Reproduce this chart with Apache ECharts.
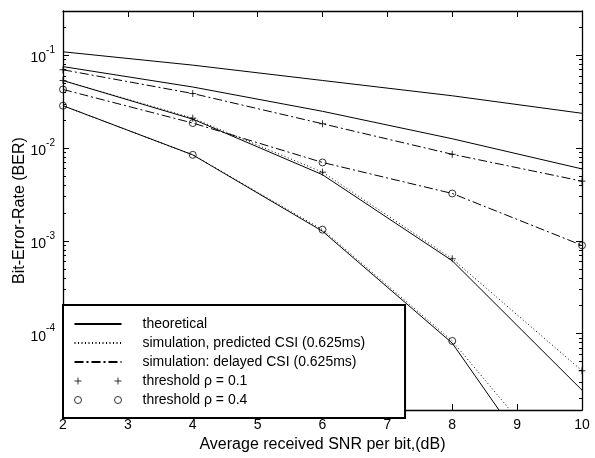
<!DOCTYPE html>
<html>
<head>
<meta charset="utf-8">
<script src="https://cdn.jsdelivr.net/npm/echarts@6/dist/echarts.min.js"></script>
<style>
  html, body { margin: 0; padding: 0; background: #fff; }
  #chart { width: 595px; height: 458px; }
</style>
</head>
<body>
<div id="chart"></div>
<script>
// SNR per bit (dB)
const snr = [2, 4, 6, 8, 10];

// theoretical curves (solid)
const theory1 = [0.109, 0.0783, 0.0535, 0.0366, 0.0237];
const theory2 = [0.0755, 0.0455, 0.0249, 0.0126, 0.00596];
const theory3 = [0.0534, 0.0205, 0.00516, 6.1e-4, 2.46e-5];
const theory4 = [0.0286, 0.00845, 0.00127, 7.9e-5, 7.9e-7];

// simulation, predicted CSI (dotted)
const predicted01 = [0.0534, 0.021, 0.0055, 6.41e-4, 3.98e-5];
const predicted04 = [0.0286, 0.00845, 0.00132, 8.34e-5, 1.78e-6];

// simulation, delayed CSI (dash-dot)
const delayed01 = [0.0698, 0.0387, 0.01828, 0.00857, 0.0044];
const delayed04 = [0.0428, 0.0186, 0.0070, 0.00324, 8.95e-4];

const majorTicks = [1e-4, 1e-3, 1e-2, 1e-1];
const minorTicks = [];
[1e-5, 1e-4, 1e-3, 1e-2, 1e-1].forEach((d) => {
  for (let k = 2; k <= 9; k++) minorTicks.push(d * k);
});

const font = "'Liberation Sans', Arial, sans-serif";
const pairs = (ys) => snr.map((x, i) => [x, ys[i]]);

function lineSeries(name, ys, type) {
  return {
    name,
    type: "line",
    data: pairs(ys),
    symbol: "none",
    lineStyle: { color: "#000", width: 1, type },
    itemStyle: { color: "#000" },
    z: 3,
  };
}

const plusPath = "path://M0,3.5L7,3.5M3.5,0L3.5,7";
const plusPair = "path://M0,3.5L7,3.5M3.5,0L3.5,7M40,3.5L47,3.5M43.5,0L43.5,7";
const circlePair =
  "path://M0,3.5A3.5,3.5,0,1,1,7,3.5A3.5,3.5,0,1,1,0,3.5Z" +
  "M40,3.5A3.5,3.5,0,1,1,47,3.5A3.5,3.5,0,1,1,40,3.5Z";

const dashDot = [9, 3, 2, 3];
const dotted = [1, 2.5];

const yBase = {
  type: "log",
  logBase: 10,
  min: 1.5e-5,
  max: 0.3,
  splitLine: { show: false },
};

const noDot = { opacity: 0 };
const thinMarker = { color: "none", borderColor: "#000", borderWidth: 1 };

const option = {
  animation: false,
  backgroundColor: "#fff",
  textStyle: { fontFamily: font },
  grid: { left: 63, right: 13, top: 11, bottom: 41 },
  xAxis: [
    {
      type: "value",
      min: 2,
      max: 10,
      interval: 1,
      position: "bottom",
      name: "Average received SNR per bit,(dB)",
      nameLocation: "middle",
      nameGap: 18,
      nameTextStyle: { color: "#000", fontSize: 16, fontFamily: font },
      axisLine: { lineStyle: { color: "#000", width: 1.3 } },
      axisTick: { inside: true, length: 6, lineStyle: { color: "#000" } },
      axisLabel: { color: "#000", fontSize: 14, margin: 8, fontFamily: font },
      splitLine: { show: false },
    },
    {
      type: "value",
      min: 2,
      max: 10,
      interval: 1,
      position: "top",
      axisLine: { lineStyle: { color: "#000", width: 1.3 } },
      axisTick: { inside: true, length: 6, lineStyle: { color: "#000" } },
      axisLabel: { show: false },
      splitLine: { show: false },
    },
  ],
  yAxis: [
    {
      ...yBase,
      position: "left",
      name: "Bit-Error-Rate (BER)",
      nameLocation: "middle",
      nameGap: 35,
      nameMoveOverlap: false,
      nameTextStyle: { color: "#000", fontSize: 16, fontFamily: font },
      axisLine: { show: true, lineStyle: { color: "#000", width: 1.3 } },
      axisTick: {
        inside: true,
        length: 6,
        customValues: majorTicks,
        lineStyle: { color: "#000" },
      },
      axisLabel: {
        customValues: majorTicks,
        margin: 8,
        formatter: (v) => "{b|10}{sup|" + Math.round(Math.log10(v)) + "}",
        rich: {
          b: { fontSize: 14, color: "#000", fontFamily: font, lineHeight: 20, verticalAlign: "bottom" },
          sup: { fontSize: 10, color: "#000", fontFamily: font, lineHeight: 20, verticalAlign: "top" },
        },
      },
    },
    {
      ...yBase,
      position: "left",
      axisLine: { show: false },
      axisTick: {
        inside: true,
        length: 3,
        customValues: minorTicks,
        lineStyle: { color: "#000" },
      },
      axisLabel: { show: false },
    },
    {
      ...yBase,
      position: "right",
      axisLine: { show: true, lineStyle: { color: "#000", width: 1.3 } },
      axisTick: {
        inside: true,
        length: 6,
        customValues: majorTicks,
        lineStyle: { color: "#000" },
      },
      axisLabel: { show: false },
    },
    {
      ...yBase,
      position: "right",
      axisLine: { show: false },
      axisTick: {
        inside: true,
        length: 3,
        customValues: minorTicks,
        lineStyle: { color: "#000" },
      },
      axisLabel: { show: false },
    },
  ],
  legend: {
    orient: "vertical",
    left: 63,
    top: 305,
    padding: [12, 40, 11, 9],
    itemGap: 5,
    itemWidth: 47,
    itemHeight: 7,
    backgroundColor: "#fff",
    borderColor: "#000",
    borderWidth: 2,
    borderRadius: 0,
    z: 10,
    textStyle: { color: "#000", fontSize: 14, fontFamily: font, padding: [0, 0, 0, 16] },
    data: [
      { name: "theoretical", itemStyle: noDot },
      { name: "simulation, predicted CSI (0.625ms)", itemStyle: noDot },
      { name: "simulation: delayed CSI (0.625ms)", itemStyle: noDot },
      { name: "threshold \u03c1 = 0.1", icon: plusPair, itemStyle: thinMarker },
      { name: "threshold \u03c1 = 0.4", icon: circlePair, itemStyle: thinMarker },
    ],
  },
  series: [
    lineSeries("theoretical", theory1, "solid"),
    lineSeries("theoretical", theory2, "solid"),
    lineSeries("theoretical", theory3, "solid"),
    lineSeries("theoretical", theory4, "solid"),
    lineSeries("simulation, predicted CSI (0.625ms)", predicted01, dotted),
    lineSeries("simulation, predicted CSI (0.625ms)", predicted04, dotted),
    lineSeries("simulation: delayed CSI (0.625ms)", delayed01, dashDot),
    lineSeries("simulation: delayed CSI (0.625ms)", delayed04, dashDot),
    {
      name: "threshold \u03c1 = 0.1",
      type: "scatter",
      data: pairs(predicted01).concat(pairs(delayed01)),
      symbol: plusPath,
      symbolSize: 7,
      itemStyle: thinMarker,
      z: 4,
    },
    {
      name: "threshold \u03c1 = 0.4",
      type: "scatter",
      data: pairs(predicted04).concat(pairs(delayed04)),
      symbol: "circle",
      symbolSize: 7,
      itemStyle: thinMarker,
      z: 4,
    },
  ],
};

const chart = echarts.init(document.getElementById("chart"), null, { renderer: "canvas" });
chart.setOption(option);
</script>
</body>
</html>
